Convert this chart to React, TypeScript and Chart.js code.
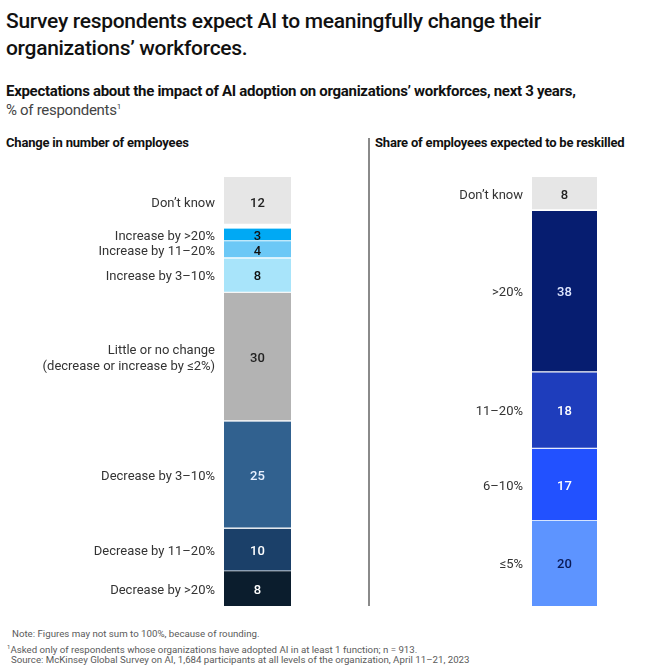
import React, { useEffect, useRef } from "react";
import { Chart, registerables } from "chart.js";

Chart.register(...registerables);

// ---- data (top-to-bottom order as shown) ----
const leftCategories = [
  "Don’t know",
  "Increase by >20%",
  "Increase by 11–20%",
  "Increase by 3–10%",
  "Little or no change\n(decrease or increase by ≤2%)",
  "Decrease by 3–10%",
  "Decrease by 11–20%",
  "Decrease by >20%",
];
const leftValues = [12, 3, 4, 8, 30, 25, 10, 8];
const leftColors = ["#e6e6e6", "#00a9f4", "#6cc8f6", "#a8e4fa", "#b3b3b3", "#31618f", "#1b4069", "#0b1d2d"];
const leftValueColors = ["#222", "#111", "#111", "#111", "#222", "#e8f0ff", "#ffffff", "#ffffff"];

const rightCategories = ["Don’t know", ">20%", "11–20%", "6–10%", "≤5%"];
const rightValues = [8, 38, 18, 17, 20];
const rightColors = ["#e6e6e6", "#061d70", "#1e3dbc", "#2251ff", "#5d94ff"];
const rightValueColors = ["#222", "#dfe6ff", "#ffffff", "#ffffff", "#0a1a55"];

const FONT = "Roboto, 'Liberation Sans', sans-serif";

const labelPlugin = {
  id: "segLabels",
  afterDatasetsDraw(chart: any) {
    const ctx = chart.ctx;
    ctx.save();
    chart.data.datasets.forEach((ds: any, i: number) => {
      const meta = chart.getDatasetMeta(i);
      const el = meta.data[0];
      if (!el) return;
      const { x, y, base, width } = el.getProps(["x", "y", "base", "width"], true);
      const cy = (y + base) / 2;
      // value
      ctx.font = `500 13px ${FONT}`;
      ctx.fillStyle = ds.valueColor;
      ctx.textAlign = "center";
      ctx.textBaseline = "middle";
      ctx.fillText(String(ds.data[0]), x, cy + 1.5);
      // category label
      const lines = String(ds.label).split("\n");
      ctx.font = `400 13px ${FONT}`;
      ctx.fillStyle = "#333";
      ctx.textAlign = "right";
      const lh = 16;
      lines.forEach((ln, k) => {
        ctx.fillText(ln, x - width / 2 - 9, cy + 1.5 + (k - (lines.length - 1) / 2) * lh);
      });
    });
    ctx.restore();
  },
};

function buildChart(
  canvas: HTMLCanvasElement,
  cats: string[],
  vals: number[],
  colors: string[],
  valColors: string[],
  padL: number,
  padR: number,
  gapAfterFirst: number
) {
  const total = vals.reduce((a, b) => a + b, 0);
  const n = cats.length;
  const datasets = cats
    .map((c, i) => ({
      label: c,
      data: [vals[i]],
      backgroundColor: colors[i],
      borderColor: "#ffffff",
      borderSkipped: false,
      borderWidth: { top: 0, bottom: i === 0 ? gapAfterFirst : i === n - 1 ? 0 : 1.5, left: 0, right: 0 },
      valueColor: valColors[i],
      barPercentage: 1,
      categoryPercentage: 1,
    }))
    .reverse();
  return new Chart(canvas, {
    type: "bar",
    data: { labels: [""], datasets: datasets as any },
    options: {
      animation: false,
      responsive: false,
      devicePixelRatio: 1,
      layout: { padding: { left: padL, right: padR, top: 0, bottom: 0 } },
      plugins: { legend: { display: false }, tooltip: { enabled: false } },
      scales: {
        x: { display: false, stacked: true },
        y: { display: false, stacked: true, min: 0, max: total },
      },
    },
    plugins: [labelPlugin],
  });
}

export default function App() {
  const leftRef = useRef<HTMLCanvasElement>(null);
  const rightRef = useRef<HTMLCanvasElement>(null);

  useEffect(() => {
    const a = buildChart(leftRef.current!, leftCategories, leftValues, leftColors, leftValueColors, 224, 69, 5);
    const b = buildChart(rightRef.current!, rightCategories, rightValues, rightColors, rightValueColors, 163, 60, 2);
    return () => {
      a.destroy();
      b.destroy();
    };
  }, []);

  const abs = (s: React.CSSProperties): React.CSSProperties => ({ position: "absolute", margin: 0, ...s });

  return (
    <div
      style={{
        position: "fixed",
        left: 0,
        top: 0,
        width: 657,
        height: 668,
        background: "#fff",
        fontFamily: FONT,
        color: "#111",
        overflow: "hidden",
      }}
    >
      <div style={abs({ left: 6, top: 8, fontSize: 21, fontWeight: 500, lineHeight: "27px", width: 650, letterSpacing: -0.3 })}>
        Survey respondents expect AI to meaningfully change their
        <br />
        organizations’ workforces.
      </div>
      <div style={abs({ left: 6, top: 82, fontSize: 15, fontWeight: 700, lineHeight: "18px", letterSpacing: -0.3, width: 650 })}>
        Expectations about the impact of AI adoption on organizations’ workforces, next 3 years,
      </div>
      <div style={abs({ left: 6, top: 98, fontSize: 15, fontWeight: 400, lineHeight: "18px", color: "#444", letterSpacing: -0.3 })}>
        % of respondents<sup style={{ fontSize: 8, verticalAlign: "6px" }}>1</sup>
      </div>
      <div style={abs({ left: 6, top: 135, fontSize: 13, fontWeight: 700, lineHeight: "16px", letterSpacing: -0.2 })}>
        Change in number of employees
      </div>
      <div style={abs({ left: 375, top: 135, fontSize: 13, fontWeight: 700, lineHeight: "16px", letterSpacing: -0.2 })}>
        Share of employees expected to be reskilled
      </div>
      <div style={abs({ left: 368, top: 138, width: 1.5, height: 468, background: "#8a8a8a" })} />
      <canvas ref={leftRef} width={360} height={429} style={abs({ left: 0, top: 177 })} />
      <canvas ref={rightRef} width={288} height={429} style={abs({ left: 369, top: 177 })} />
      <div style={abs({ left: 12, top: 627, fontSize: 9.7, lineHeight: "13px", color: "#5a5a5a" })}>
        Note: Figures may not sum to 100%, because of rounding.
      </div>
      <div style={abs({ left: 7, top: 640, fontSize: 9.7, lineHeight: "13px", color: "#5a5a5a" })}>
        <sup style={{ fontSize: 6, verticalAlign: "4px" }}>1</sup>Asked only of respondents whose organizations have adopted AI in at least 1 function; n = 913.
      </div>
      <div style={abs({ left: 11, top: 653, fontSize: 9.7, lineHeight: "13px", color: "#5a5a5a" })}>
        Source: McKinsey Global Survey on AI, 1,684 participants at all levels of the organization, April 11–21, 2023
      </div>
    </div>
  );
}
